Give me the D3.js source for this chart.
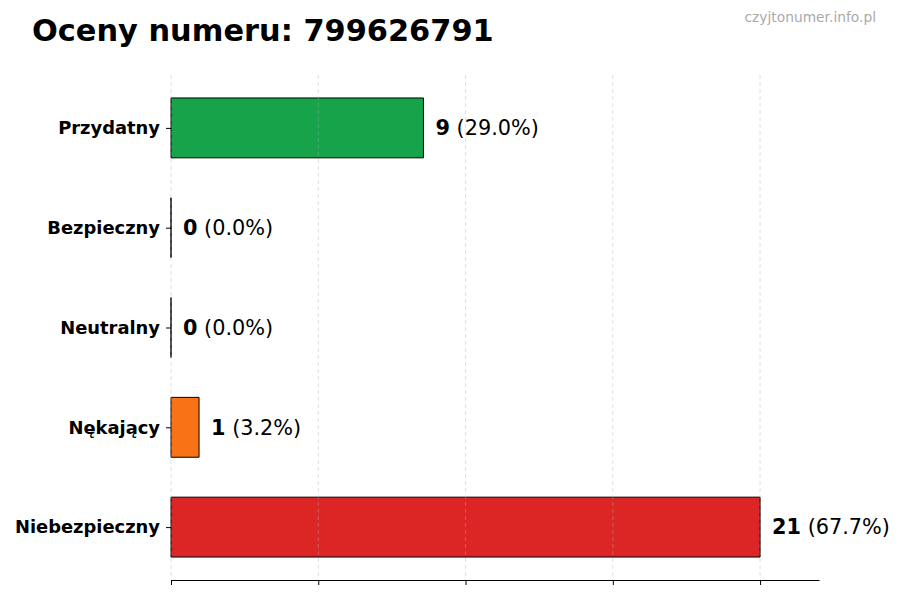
<!DOCTYPE html>
<html>
<head>
<meta charset="utf-8">
<script src="https://cdn.jsdelivr.net/npm/d3@7"></script>
<style>
  body { margin: 0; background: #fff; }
  text { font-family: "DejaVu Sans", sans-serif; }
</style>
</head>
<body>
<div id="chart"></div>
<script>
// dane wykresu
const categories = ['Przydatny', 'Bezpieczny', 'Neutralny', 'Nękający', 'Niebezpieczny'];
const counts = [9, 0, 0, 1, 21];
const percents = ['29.0%', '0.0%', '0.0%', '3.2%', '67.7%'];
const colors = ['#16a34a', '#9ca3af', '#6b7280', '#f97316', '#dc2626'];
const phone = '799626791';

const width = 900;
const height = 600;
const margin = { top: 75, right: 81, bottom: 20, left: 171 };

const svg = d3.select('#chart').append('svg')
    .attr('width', width)
    .attr('height', height);

const maxVal = d3.max(counts);

const x = d3.scaleLinear()
    .domain([0, maxVal * 1.1])
    .range([margin.left, width - margin.right]);

// indeks 0 na gorze, jak w oryginale
const y = d3.scaleLinear()
    .domain([-0.53, categories.length - 1 + 0.53])
    .range([margin.top, height - margin.bottom]);

const barH = y(0.3) - y(0);
const xTicks = d3.range(0, 5).map(i => maxVal * i / 4);

// slupki
svg.append('g').selectAll('path')
    .data(counts)
    .enter().append('path')
    .attr('d', (d, i) => {
        const y0 = y(i) - barH;
        return `M${x(0)},${y0}H${x(d)}V${y0 + 2 * barH}H${x(0)}Z`;
    })
    .attr('fill', (d, i) => colors[i])
    .attr('stroke', '#000')
    .attr('stroke-width', 1);

// siatka
svg.append('g').selectAll('line')
    .data(xTicks)
    .enter().append('line')
    .attr('x1', d => x(d))
    .attr('x2', d => x(d))
    .attr('y1', margin.top)
    .attr('y2', height - margin.bottom)
    .attr('stroke', '#b0b0b0')
    .attr('stroke-opacity', 0.5)
    .attr('stroke-dasharray', '4,3')
    .attr('stroke-width', 0.8);

// os X bez etykiet
svg.append('g')
    .attr('transform', `translate(0,${height - margin.bottom})`)
    .call(d3.axisBottom(x).tickValues(xTicks).tickFormat('').tickSize(5).tickSizeOuter(0))
    .call(g => g.select('.domain').attr('stroke', '#000'));

// os Y
const yAxis = svg.append('g')
    .attr('transform', `translate(${margin.left},0)`)
    .call(d3.axisLeft(y).tickValues(d3.range(categories.length))
        .tickFormat(i => categories[i]).tickSize(5).tickPadding(6));
yAxis.select('.domain').remove();
yAxis.selectAll('text')
    .attr('font-family', 'DejaVu Sans, sans-serif')
    .attr('font-weight', 'bold')
    .attr('fill', '#000')
    .style('font-size', '17.9px');

// etykiety wartosci
const labels = svg.append('g').selectAll('text')
    .data(counts)
    .enter().append('text')
    .attr('x', d => x(d) + 12)
    .attr('y', (d, i) => y(i))
    .attr('dy', '0.35em')
    .attr('font-size', 20.8)
    .attr('fill', '#000');
labels.append('tspan').attr('font-weight', 'bold').text(d => d);
labels.append('tspan').text((d, i) => ` (${percents[i]})`);

// tytul
svg.append('text')
    .attr('x', 32)
    .attr('y', 41)
    .attr('font-size', 30.4)
    .attr('font-weight', 'bold')
    .attr('fill', '#000')
    .text(`Oceny numeru: ${phone}`);

// znak wodny
svg.append('text')
    .attr('x', 876)
    .attr('y', 22)
    .attr('text-anchor', 'end')
    .attr('font-size', 13.8)
    .attr('fill', '#aaaaaa')
    .text('czyjtonumer.info.pl');
</script>
</body>
</html>
